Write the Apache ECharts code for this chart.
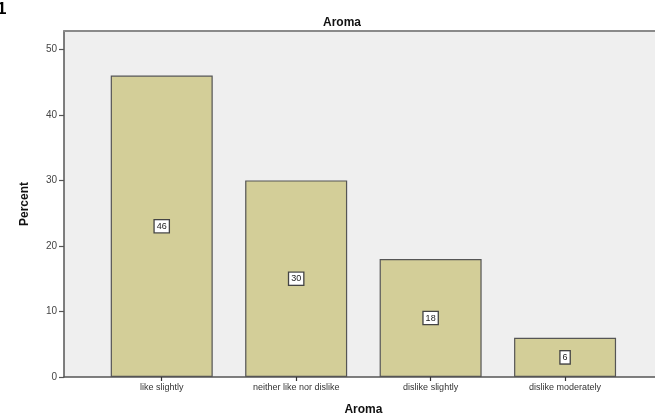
<!DOCTYPE html>
<html>
<head>
<meta charset="utf-8">
<script src="https://cdn.jsdelivr.net/npm/echarts@6/dist/echarts.min.js"></script>
<style>
  html, body { margin: 0; padding: 0; background: #ffffff; }
  #chart { width: 655px; height: 416px; }
</style>
</head>
<body>
<div id="chart"></div>
<script>
// Aroma ratings, percent of respondents
const categories = ['like slightly', 'neither like nor dislike', 'dislike slightly', 'dislike moderately'];
const percents = [46, 30, 18, 6];
const yTicks = [0, 10, 20, 30, 40, 50];

const Y_MAX = 52.8;
const FONT = 'Liberation Sans, Arial, sans-serif';

const chart = echarts.init(document.getElementById('chart'), null, { renderer: 'canvas' });

chart.setOption({
  animation: false,
  backgroundColor: '#ffffff',
  title: {
    text: 'Aroma',
    left: 318,
    top: 12,
    textStyle: { fontFamily: FONT, fontSize: 12, fontWeight: 'bold', color: '#111' }
  },
  graphic: [
    {
      type: 'text',
      left: -3,
      top: 1,
      style: { text: '1', font: 'bold 17px ' + FONT, fill: '#000' }
    }
  ],
  grid: [
    // full plotting frame (grey panel)
    { left: 64, right: 0, top: 31, bottom: 39, show: true, backgroundColor: '#efefef', borderWidth: 0, outerBoundsMode: 'none' },
    // band holding the bars
    { left: 94.5, right: 22.7, top: 31, bottom: 39, outerBoundsMode: 'none' }
  ],
  xAxis: [
    {
      type: 'value', gridIndex: 0, position: 'bottom', min: 0, max: 1,
      axisLine: { show: true, lineStyle: { color: '#555', width: 1.5 } },
      axisTick: { show: false }, axisLabel: { show: false }, splitLine: { show: false }
    },
    {
      type: 'value', gridIndex: 0, position: 'top', min: 0, max: 1,
      axisLine: { show: true, lineStyle: { color: '#8a8a8a', width: 2 } },
      axisTick: { show: false }, axisLabel: { show: false }, splitLine: { show: false }
    },
    {
      type: 'category', gridIndex: 1, data: categories,
      axisLine: { show: false },
      axisTick: { show: true, alignWithLabel: true, length: 4, lineStyle: { color: '#333', width: 1.2 } },
      axisLabel: { fontFamily: FONT, fontSize: 9, color: '#333', margin: 6 },
      name: 'Aroma', nameLocation: 'middle', nameGap: 27,
      nameTextStyle: { fontFamily: FONT, fontSize: 12, fontWeight: 'bold', color: '#111' }
    }
  ],
  yAxis: [
    {
      type: 'value', gridIndex: 0, min: 0, max: Y_MAX,
      axisLine: { show: true, lineStyle: { color: '#555', width: 1.5 } },
      axisTick: { show: true, length: 5, customValues: yTicks, lineStyle: { color: '#555', width: 1.2 } },
      axisLabel: { customValues: yTicks, fontFamily: FONT, fontSize: 10, color: '#444', margin: 7 },
      splitLine: { show: false },
      name: 'Percent', nameLocation: 'middle', nameRotate: 90, nameGap: 33,
      nameTextStyle: { fontFamily: FONT, fontSize: 12, fontWeight: 'bold', color: '#111' }
    },
    {
      type: 'value', gridIndex: 1, min: 0, max: Y_MAX, show: false
    }
  ],
  series: [
    {
      type: 'bar',
      xAxisIndex: 2,
      yAxisIndex: 1,
      data: percents,
      barWidth: 102,
      itemStyle: { color: '#d3ce98', borderColor: '#555', borderWidth: 1.2 },
      label: {
        show: true,
        position: 'inside',
        fontFamily: FONT,
        fontSize: 9,
        color: '#222',
        backgroundColor: '#ffffff',
        borderColor: '#444',
        borderWidth: 1.3,
        padding: [2, 2, 1, 2]
      }
    }
  ]
});
</script>
</body>
</html>
